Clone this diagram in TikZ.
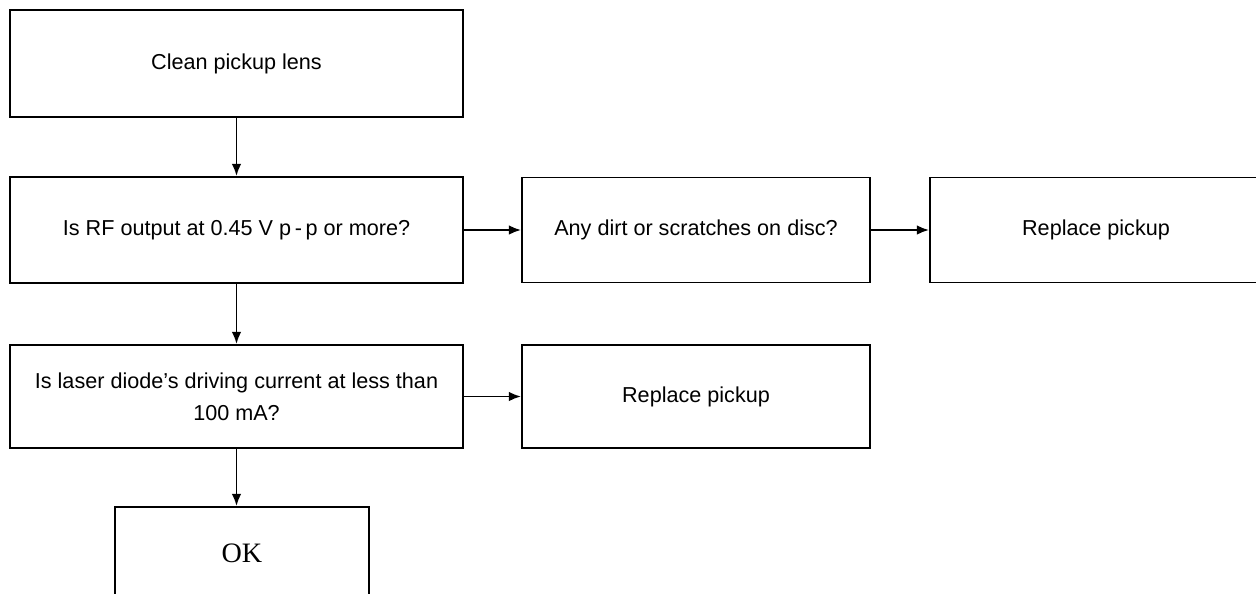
\documentclass[tikz,border=0pt]{standalone}
\usepackage{fontspec}
\setmainfont{Liberation Sans}
\newfontfamily\okfont{Liberation Serif}
\usetikzlibrary{arrows.meta}

\begin{document}
\begin{tikzpicture}[x=0.02cm,y=-0.02cm,
  box/.style={draw,line width=1.1pt,inner sep=0pt,align=center,font=\fontsize{12.3}{18}\selectfont},
  arr/.style={line width=1.1pt,-{Latex[length=7pt,width=5.5pt]}}]
% pickup check flow, px grid of the sheet
\useasboundingbox (0,0) rectangle (1256,593);
\node[box,minimum width=9.06cm,minimum height=2.14cm] (clean) at (236.5,63.5) {Clean pickup lens};
\node[box,minimum width=9.06cm,minimum height=2.12cm] (rf) at (236.5,230) {Is RF output at 0.45 V p\,-\,p or more?};
\node[box,minimum width=6.96cm,minimum height=2.10cm] (dirt) at (696,230) {Any dirt or scratches on disc?};
\node[box,minimum width=6.64cm,minimum height=2.10cm] (rep1) at (1096,230) {Replace pickup};
\node[box,minimum width=9.06cm,minimum height=2.06cm] (laser) at (236.5,396.5) {Is laser diode’s driving current at less than\\100 mA?};
\node[box,minimum width=6.96cm,minimum height=2.06cm] (rep2) at (696,396.5) {Replace pickup};
\node[box,minimum width=5.08cm,minimum height=1.84cm,font=\okfont\fontsize{16}{18}\selectfont] (ok) at (242,553) {OK};
\draw[arr] (clean) -- (rf);
\draw[arr] (rf) -- (dirt);
\draw[arr] (dirt) -- (rep1);
\draw[arr] (rf) -- (laser);
\draw[arr] (laser) -- (rep2);
\draw[arr] (laser.south) -- (laser.south |- ok.north);
\end{tikzpicture}
\end{document}
